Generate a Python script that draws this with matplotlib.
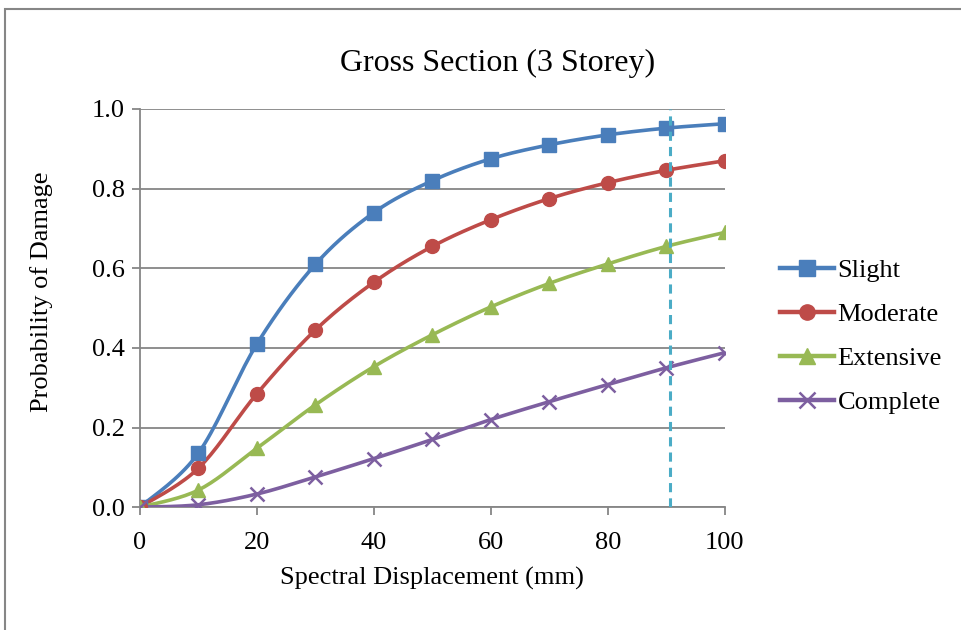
import matplotlib
matplotlib.use("Agg")
import matplotlib.pyplot as plt
import numpy as np

# data
sd_mm = [0, 10, 20, 30, 40, 50, 60, 70, 80, 90, 100]
slight = [0.0, 0.136, 0.41, 0.61, 0.74, 0.82, 0.875, 0.91, 0.935, 0.952, 0.963]
moderate = [0.0, 0.098, 0.285, 0.445, 0.565, 0.655, 0.722, 0.775, 0.815, 0.846, 0.870]
extensive = [0.0, 0.043, 0.148, 0.257, 0.353, 0.433, 0.503, 0.562, 0.611, 0.655, 0.690]
complete = [0.0, 0.006, 0.033, 0.076, 0.122, 0.170, 0.220, 0.265, 0.308, 0.350, 0.388]
sd_marker = 90.7

series = [("Slight", slight, "#4a7ebb", "s"),
          ("Moderate", moderate, "#be4b48", "o"),
          ("Extensive", extensive, "#98b954", "^"),
          ("Complete", complete, "#7d5fa0", "x")]


def smooth(x, y, n=20):
    # Excel-like smoothed line (Catmull-Rom through the data points)
    x = np.asarray(x, float); y = np.asarray(y, float)
    px = np.r_[x[0], x, x[-1]]; py = np.r_[y[0], y, y[-1]]
    t = np.linspace(0, 1, n)[:, None]
    out_x, out_y = [], []
    for i in range(1, len(px) - 2):
        for p, out in ((px, out_x), (py, out_y)):
            p0, p1, p2, p3 = p[i - 1], p[i], p[i + 1], p[i + 2]
            c1 = p1 + (p2 - p0) / 6
            c2 = p2 - (p3 - p1) / 6
            b = ((1 - t) ** 3 * p1 + 3 * (1 - t) ** 2 * t * c1
                 + 3 * (1 - t) * t ** 2 * c2 + t ** 3 * p2)
            out.append(b.ravel())
    return np.concatenate(out_x), np.concatenate(out_y)


plt.rcParams["font.family"] = ["Liberation Serif", "DejaVu Serif"]
fig = plt.figure(figsize=(9.62, 6.3), dpi=100)
ax = fig.add_axes([0.1455, 0.195, 0.608, 0.632])

for lbl, vals, c, m in series:
    sx, sy = smooth(sd_mm, vals)
    ax.plot(sx, sy, color=c, lw=2.6, solid_capstyle="round", zorder=3)
    mew = 1.8 if m == "x" else 1
    ax.plot(sd_mm, vals, ls="none", marker=m, ms=10, mew=mew, color=c, zorder=4)
    # legend proxy
    ax.plot([], [], color=c, lw=3.2, marker=m, ms=11, mew=mew, label=lbl)

ax.axvline(sd_marker, color="#4bacc6", lw=2.2, ls=(0, (3, 2)), zorder=5)

ax.set_xlim(0, 100); ax.set_ylim(0, 1.0)
ax.set_xticks(np.arange(0, 101, 20))
ax.set_yticks(np.arange(0, 1.01, 0.2))
ax.set_yticklabels([f"{v:.1f}" for v in np.arange(0, 1.01, 0.2)])
ax.grid(axis="y", color="#868686", lw=1.3)
ax.set_axisbelow(True)
for s in ["top", "right"]:
    ax.spines[s].set_visible(False)
for s in ["left", "bottom"]:
    ax.spines[s].set_color("#868686"); ax.spines[s].set_linewidth(1.3)
ax.tick_params(axis="both", colors="#868686", length=6, width=1.3,
               labelsize=19, labelcolor="black")
ax.tick_params(axis="x", pad=12)
ax.tick_params(axis="y", pad=5)
ax.set_xlabel("Spectral Displacement (mm)", fontsize=19, va="center")
ax.set_ylabel("Probability of Damage", fontsize=19, va="center")
ax.xaxis.set_label_coords(0.50, -0.178)
ax.yaxis.set_label_coords(-0.1675, 0.54)
fig.text(0.517, 0.9, "Gross Section (3 Storey)", ha="center", va="center", fontsize=23)

h, l = ax.get_legend_handles_labels()
fig.legend(h[-4:], l[-4:], loc="center left", bbox_to_anchor=(0.811, 0.466),
           frameon=False, fontsize=19, handlelength=2.05, handletextpad=0.12,
           labelspacing=0.78, borderpad=0, borderaxespad=0)

# outer chart frame
fig.add_artist(plt.Rectangle((5 / 962, -0.01), 1.0, 1 - 9 / 630 + 0.01,
                             transform=fig.transFigure, fill=False,
                             edgecolor="#868686", lw=1.5))

fig.savefig("out.png", dpi=100)
